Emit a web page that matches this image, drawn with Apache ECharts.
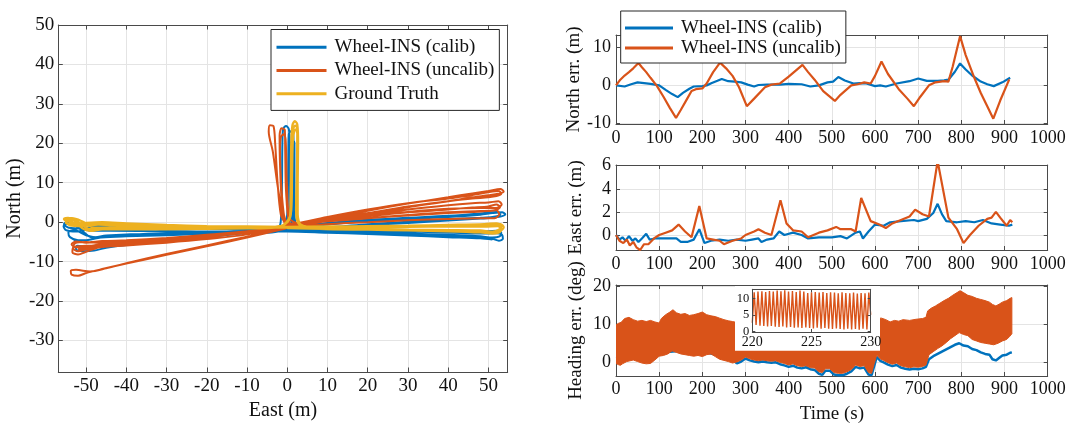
<!DOCTYPE html>
<html>
<head>
<meta charset="utf-8">
<script src="https://cdn.jsdelivr.net/npm/echarts@6/dist/echarts.min.js"></script>
<style>
  html, body { margin: 0; padding: 0; background: #fff; }
  #chart { width: 1069px; height: 426px; }
</style>
</head>
<body>
<div id="chart"></div>
<script>
// ---------- tick values ----------
const trajEastTicks = [-50, -40, -30, -20, -10, 0, 10, 20, 30, 40, 50];
const trajNorthTicks = [-30, -20, -10, 0, 10, 20, 30, 40, 50];
const timeTicks = [0, 100, 200, 300, 400, 500, 600, 700, 800, 900, 1000];
const northErrTicks = [-10, 0, 10];
const eastErrTicks = [0, 2, 4, 6];
const headingErrTicks = [0, 10, 20];
const insetTimeTicks = [220, 225, 230];
const insetHeadingTicks = [0, 5, 10];

// ---------- trajectories [east (m), north (m)] ----------
const calibPath = [
  [0,-2.3],[10,-2.6],[20,-2.9],[30,-3.2],[40,-3.5],[48,-3.8],[51,-4.2],[52.6,-4.7],[53.6,-4.2],[53.4,-3.2],[52,-2.8],[48,-2.9],
  [40,-2.6],[30,-2.4],[20,-2.2],[10,-2.1],[0,-1.9],[-10,-1.8],[-20,-1.7],[-30,-1.6],[-38,-1.2],[-43,-0.3],[-47,-0.8],[-51,-1.6],
  [-54.3,-1.4],[-55.5,-0.5],[-54.6,0.1],[-53,-0.5],[-50.5,-2.6],[-48.5,-3.9],[-45,-3.4],[-40,-3.1],[-30,-3.0],[-20,-2.8],[-10,-2.6],
  [-3,-2.3],[-1.8,-0.8],[-1.5,2],[-1.3,10],[-1.2,20],[-1.0,23.7],[-0.3,24.4],[0.4,23.6],[0.6,20],[0.7,10],[0.8,2],[1.6,-1.4],[5,-2.3],
  [10,-2.3],[20,-2.5],[30,-2.9],[40,-3.2],[48,-3.6],[51,-3.9],[52.8,-3.6],[53.2,-2.7],[52,-2.2],[48,-2.4],[40,-2.2],[30,-2.0],
  [20,-1.9],[10,-1.9],[0,-2.0],[-10,-2.2],[-20,-2.5],[-30,-2.8],[-40,-3.2],[-46,-3.8],[-49.5,-4.5],[-52,-4.6],[-54,-3.8],[-54.4,-2.6],
  [-53,-2.0],[-50,-3.3],[-47,-3.9],[-40,-3.6],[-30,-3.3],[-20,-3.0],[-10,-2.8],[-3,-2.5],[-1,-1.5],[0,2],[0.2,10],[0.3,18],
  [0.4,22.3],[1.0,23.1],[1.5,22.3],[1.6,18],[1.4,10],[1.3,2],[2.3,-1.2],[8,-1.6],[20,-0.8],[30,-0.2],[40,0.4],[48,0.9],[51,1.1],
  [53,1.4],[54.2,2.0],[53.4,2.5],[51,2.3],[48,1.9],[40,1.3],[30,0.8],[20,0.2],[10,-0.6],[0,-1.7],[-10,-2.7],[-20,-3.8],[-30,-4.8],
  [-40,-5.8],[-45,-6.5],[-48,-7.2],[-50.5,-7.4],[-52.5,-6.9],[-52.2,-6.0],[-49,-6.4],[-46,-6.0],[-40,-5.3],[-30,-4.4],[-20,-3.5],
  [-10,-2.8],[-3,-2.3],[-0.8,-1.0],[0.6,2],[0.8,10],[0.9,17],[1.0,20],[1.4,20.8],[1.8,20],[1.8,10],[1.8,2],[2.8,-1.3],[8,-1.4],
  [20,-0.5],[30,0.1],[40,0.7],[48,1.1],[51,1.3],[52.8,1.7],[53,2.3],[52,2.6],[48,2.2],[40,1.6],[30,1.1],[20,0.6],[10,-0.2],[0,-1.2],
  [-10,-1.5],[-20,-1.7],[-30,-1.8],[-38,-1.4],[-44,-0.9],[-49,-1.6],[-52.5,-2.4],[-55,-2.0],[-55.6,-1.0],[-54.2,-0.2],[-52,-0.8],
  [-49,-2.2],[-44,-2.2],[-30,-2.3],[-20,-2.4],[-10,-2.4],[0,-2.4],[10,-2.7],[20,-3.0],[30,-3.4],[40,-3.8],[48,-4.1],[51,-4.4]
];

const uncalibPath = [
  [0,-1.5],[-10,-3.9],[-20,-6.1],[-30,-8.3],[-40,-10.5],[-46,-11.9],[-50,-12.9],[-52,-13.6],[-53.6,-13.3],[-53.8,-12.4],[-52.5,-12.1],
  [-49,-12.5],[-45,-11.7],[-40,-10.4],[-30,-8.1],[-20,-5.9],[-10,-3.7],[0,-1.5],[10,0.5],[20,2.0],[30,3.8],[40,5.3],[46,6.3],[50,6.8],
  [52.5,7.2],[53.8,7.8],[53,8.4],[50,7.9],[46,7.3],[40,6.3],[30,4.7],[20,2.9],[10,1.0],[1,-0.8],[-0.8,1],[-2.2,8],[-3.6,18],
  [-4.6,23],[-4.3,24.6],[-3.4,24.3],[-3.0,20],[-2.4,10],[-1.6,2],[-0.5,-0.6],
  [-10,-3.1],[-20,-4.3],[-30,-5.2],[-40,-5.9],[-46,-6.3],[-50,-6.9],[-52,-7.4],[-53.2,-6.6],[-52.7,-5.3],[-50,-5.0],[-46,-5.3],
  [-40,-5.0],[-30,-4.4],[-20,-3.6],[-10,-2.7],[0,-1.2],[10,0.5],[20,1.5],[30,2.5],[40,3.2],[46,3.7],[50,4.0],[52,4.5],[52.9,3.8],
  [51.5,3.0],[48,2.8],[40,2.5],[30,1.8],[20,1.0],[10,0.2],[0.5,-0.8],[-0.6,1],[-1.4,6],[-1.8,15],[-1.9,22],[-1.4,23.8],[-0.6,23.4],
  [-0.5,18],[-0.3,8],[0.5,0],[2,-0.4],
  [10,0.6],[20,1.8],[30,3.2],[40,4.3],[46,4.8],[50,5.0],[52.5,5.3],[53.3,4.5],[52,3.6],[48,3.6],[40,3.4],[30,2.6],[20,1.5],[10,0.3],
  [0,-1.4],[-10,-2.6],[-20,-3.8],[-30,-4.8],[-40,-5.6],[-46,-6.2],[-50,-7.5],[-52,-8.2],[-53.4,-7.6],[-53.1,-6.3],[-50,-6.0],
  [-46,-5.8],[-40,-5.3],[-30,-4.6],[-20,-3.6],[-10,-2.6],[0,-1.3],[-0.7,1],[-1.4,8],[-1.8,18],[-1.6,21.5],[-0.9,22.3],[-0.4,21],
  [-0.1,10],[0.6,1],[3,-0.3],
  [10,0.8],[20,2.3],[30,4.0],[40,5.3],[46,6.0],[50,6.3],[52,6.6],[53.2,7.2],[52.6,7.9],[50,7.6],[46,6.9],[40,6.0],[30,4.8],[20,3.2],
  [10,1.3],[0,-0.8],[-10,-2.5],[-20,-3.8],[-30,-4.5],[-40,-5.2],[-46,-5.6],[-50,-6.2],[-52.5,-6.4],[-53.6,-5.6],[-52.5,-4.9],
  [-50,-5.2],[-46,-4.8],[-40,-4.6],[-30,-4.0],[-20,-3.2],[-10,-2.3],[0,-1.0],[10,0.2],[20,1.0],[30,1.7],[40,2.3],[46,2.6],[50,2.8],
  [52,3.0],[52.7,2.0],[51.5,1.0],[48,1.0],[40,0.8],[30,0.5],[20,0],[10,-0.5],[0,-1.2],[-10,-2.4],[-20,-3.6],[-30,-4.6],[-40,-5.4],
  [-46,-5.9],[-50,-6.5],[-52,-6.9]
];

const truthPath = [
  [0,-1.5],[10,-1.7],[20,-1.9],[30,-2.0],[40,-2.2],[48,-2.4],[51,-2.6],[53,-2.2],[53.8,-1.3],[53,-0.5],[51,-0.6],[48,-0.9],
  [40,-1.0],[30,-1.0],[20,-1.1],[10,-1.2],[0,-1.3],[-10,-1.2],[-20,-1.0],[-30,-0.9],[-38,-0.6],[-44,-0.2],[-48,-0.6],[-52,-0.4],
  [-54.5,0.2],[-55.5,0.8],[-54.5,1.1],[-53,0.6],[-51,-1.5],[-49,-2.2],[-46,-1.8],[-40,-1.6],[-30,-1.6],[-20,-1.5],[-10,-1.4],
  [-3,-1.2],[-0.5,-0.5],[0.7,1.5],[0.9,10],[1.0,20],[1.3,24.6],[1.9,25.6],[2.5,24.8],[2.7,20],[2.6,10],[2.6,2],[3.5,-0.8],[8,-1.5],
  [20,-1.7],[30,-1.9],[40,-2.0],[48,-2.1],[51,-2.4],[52.8,-1.8],[53.2,-0.9],[52,-0.3],[49,-0.5],[40,-0.7],[30,-0.9],[20,-1.0],
  [10,-1.1],[0,-1.2],[-10,-1.1],[-20,-1.0],[-30,-0.7],[-40,-0.3],[-46,0],[-50,-0.2],[-53,-0.5],[-55,-0.2],[-55,0.7],[-53.5,1.0],
  [-51,0.2],[-48,-1.4],[-40,-1.3],[-30,-1.3],[-20,-1.4],[-10,-1.4],[-3,-1.2],[-0.3,-0.3],[0.9,2],[1.1,10],[1.2,20],[1.5,23.8],
  [2.0,24.5],[2.5,23.8],[2.5,20],[2.4,10],[2.3,2],[3.2,-0.5],[8,-1.7],[20,-1.9],[30,-2.1],[40,-2.3],[48,-2.6],[51,-2.9],
  [52.5,-2.7],[53.3,-1.8],[52.3,-1.0],[49,-1.1],[40,-1.1],[30,-1.2],[20,-1.2],[10,-1.3],[0,-1.4],[-10,-1.3],[-20,-1.2],[-30,-1.1],
  [-40,-0.8],[-47,-0.6],[-51,-1.0],[-54,-0.8],[-55,0],[-54,0.6],[-52,0],[-49,-1.8],[-44,-1.8],[-30,-1.8],[-20,-1.7],[-10,-1.6],
  [-3,-1.4],[-0.2,0],[1.0,3],[1.2,12],[1.4,21],[1.8,23.2],[2.2,23.5],[2.5,22.5],[2.4,12],[2.2,3],[3,-0.6],[8,-1.6],[20,-1.8]
];

// ---------- North error [time (s), error (m)] ----------
const northCalib = [
  [0,0],[20,-0.3],[35,0.3],[50,0.8],[65,0.6],[80,0.4],[100,0],[115,-1.2],[130,-2.3],[143,-3.1],[155,-2.0],[170,-0.9],[180,-0.3],
  [200,-0.2],[210,0],[222,0.6],[235,1.2],[245,1.7],[260,1.1],[275,1.0],[290,0.8],[305,0.2],[320,-0.3],[330,0.1],[350,0.2],[380,0.2],
  [400,0.4],[430,0.3],[450,-0.3],[470,0],[490,0.8],[503,1.0],[515,2.2],[530,1.3],[550,0.5],[565,0.6],[580,0.5],[600,-0.2],[612,0],
  [625,-0.3],[650,0.5],[680,1.1],[700,1.8],[720,1.2],[745,1.2],[760,1.3],[770,1.5],[785,3.6],[797,5.8],[810,4.2],[825,2.6],
  [845,1.0],[860,0.3],[875,-0.2],[895,0.8],[913,2.0]
];
const northUncalib = [
  [0,0],[10,1.5],[20,2.6],[30,3.5],[40,4.5],[52,5.9],[60,4.8],[70,3.5],[80,2.0],[95,-0.2],[110,-3.0],[125,-6.0],[139,-8.6],[150,-6.5],
  [165,-3.5],[175,-1.5],[185,-1.0],[200,-0.8],[210,0.5],[225,3.5],[241,6.0],[255,4.5],[270,2.5],[285,-0.5],[303,-5.5],[320,-3.5],
  [345,-0.5],[360,0.2],[380,0.5],[400,2.3],[432,5.4],[445,3.5],[460,1.5],[480,-1.5],[507,-4.1],[520,-2.5],[545,0],[560,0.3],
  [575,0.8],[590,0.5],[600,2.5],[615,6.3],[630,3.0],[655,-1.0],[675,-3.5],[690,-5.5],[705,-3.0],[725,0],[740,0.8],[760,1.1],
  [770,1.0],[780,5.0],[797,13.0],[810,8.0],[830,2.0],[845,-2.0],[860,-5.5],[874,-8.8],[890,-4.0],[911,1.6]
];

// ---------- East error [time (s), error (m)] ----------
const eastCalib = [
  [0,0],[8,-0.4],[15,-0.2],[22,-0.5],[30,-0.1],[38,-0.5],[45,-0.3],[52,-0.6],[60,-0.3],[70,0.1],[78,-0.4],[90,-0.3],[100,-0.3],
  [120,-0.3],[140,-0.3],[150,-0.6],[165,-0.6],[180,-0.4],[193,0.5],[205,-0.7],[220,-0.5],[240,-0.4],[260,-0.5],[280,-0.4],
  [300,-0.5],[315,-0.4],[330,-0.3],[337,-0.6],[350,-0.4],[365,-0.3],[378,0.3],[390,0],[410,0.2],[430,0],[445,-0.3],[470,-0.2],
  [500,-0.2],[520,-0.1],[535,-0.3],[555,0.2],[565,0.3],[572,-0.3],[585,0.3],[600,0.9],[620,0.8],[635,1.1],[660,1.2],[690,1.3],
  [700,1.2],[720,1.4],[735,1.9],[745,2.7],[755,1.8],[765,1.2],[790,1.1],[810,1.2],[830,1.1],[850,1.3],[870,1.0],[890,0.9],
  [910,0.8],[918,0.9]
];
const eastUncalib = [
  [0,0],[8,-0.5],[17,-0.7],[25,-0.4],[32,-0.9],[40,-0.6],[48,-1.1],[56,-1.3],[65,-0.8],[75,-0.8],[88,-0.3],[100,0],[115,0.2],
  [130,0.4],[145,0.9],[160,0.3],[175,-0.2],[193,2.5],[210,-0.3],[225,-0.4],[240,-0.5],[250,-0.8],[270,-0.5],[290,-0.3],[300,0],
  [320,0.3],[330,0.5],[345,0.2],[360,0],[381,3.0],[395,1.0],[410,0.4],[430,0.3],[445,-0.2],[470,0.2],[490,0.4],[510,0.7],
  [520,0.5],[545,0.5],[555,0.3],[568,3.2],[590,1.2],[610,0.9],[625,0.6],[640,1.0],[660,1.3],[680,1.6],[693,2.2],[710,1.8],
  [725,1.6],[745,6.4],[770,1.5],[790,0.5],[805,-0.7],[820,0],[840,0.8],[860,1.4],[870,1.5],[880,2.0],[890,1.5],[905,0.8],
  [913,1.3],[918,1.1]
];

// ---------- Heading error [time (s), error (deg)] ----------
const headingCalib = [
  [0,1.0],[50,1.5],[100,2.5],[150,3.0],[200,2.8],[250,1.5],[270,0.8],[280,-0.3],[290,0.2],[300,1.0],[310,0.5],[320,0.2],
  [330,0],[340,0.2],[350,0],[360,-0.1],[370,0],[380,-0.5],[390,-0.8],[400,-1.2],[410,-0.9],[420,-1.4],[430,-1.6],[440,-1.3],
  [450,-1.8],[460,-2.0],[470,-3.0],[478,-3.3],[485,-2.2],[495,-2.2],[505,-3.2],[515,-3.4],[525,-3.4],[535,-3.0],[545,-2.4],
  [555,-1.2],[565,-1.6],[575,-1.4],[585,-3.2],[592,-3.4],[598,-1.0],[604,1.4],[612,0.4],[620,0],[630,-0.6],[640,-1.0],[650,-0.7],
  [660,-1.4],[670,-1.7],[680,-1.9],[690,-1.7],[700,-1.8],[710,-1.6],[718,-1.2],[725,0.8],[735,1.6],[745,2.2],[755,2.8],[765,3.4],
  [775,4.0],[785,4.6],[795,5.0],[805,4.4],[815,4.2],[825,3.5],[835,3.2],[845,2.6],[855,2.2],[865,2.0],[872,0.8],[880,0.5],
  [888,1.2],[895,1.8],[905,2.0],[913,2.5],[917,2.6]
];
// upper and lower envelope of the fast heading oscillation (uncalibrated)
const headingUncalibUpper = [
  [0,9.8],[5,10.2],[12,10.5],[20,11.5],[30,11.8],[40,11.2],[50,10.8],[60,11.0],[70,10.7],[80,11.0],[90,10.6],[100,10.3],
  [105,11.5],[115,12.5],[125,13.2],[132,13.8],[140,13.0],[150,12.6],[160,12.8],[170,12.3],[180,12.5],[190,12.8],[200,13.2],
  [210,12.5],[220,12.2],[230,12.0],[240,11.6],[250,11.2],[260,10.9],[270,10.7],[278,10.5],[300,11.5],[350,11.8],[400,11.2],
  [450,11.0],[500,10.8],[550,11.2],[600,11.5],[615,11.6],[625,11.2],[635,10.6],[645,11.0],[655,10.8],[665,11.2],[680,11.0],
  [695,11.3],[710,11.5],[718,11.8],[722,13.5],[730,14.2],[740,14.8],[750,15.5],[760,16.2],[770,16.8],[780,17.6],[790,18.3],
  [797,18.8],[805,18.3],[815,17.6],[825,17.3],[835,16.8],[845,16.5],[855,16.2],[865,15.8],[872,15.2],[880,14.8],[888,15.3],
  [895,15.8],[905,16.2],[913,16.8],[917,17.0]
];
const headingUncalibLower = [
  [0,-0.3],[5,-0.6],[10,-0.8],[15,-0.4],[25,0.2],[40,0.6],[50,0.2],[60,-0.2],[70,-0.4],[80,-0.3],[90,0.6],[100,1.6],[110,1.8],
  [120,2.2],[130,3.0],[140,2.6],[150,2.2],[160,2.0],[170,1.8],[180,1.6],[190,1.8],[200,1.5],[210,2.0],[220,2.2],[230,1.5],
  [240,0.8],[250,0.5],[260,0.2],[270,-0.2],[280,0.1],[290,0.6],[300,1.4],[310,0.9],[320,0.6],[330,0.4],[340,0.6],[350,0.4],
  [360,0.3],[370,0.4],[380,0],[390,-0.3],[400,-0.7],[410,-0.4],[420,-0.9],[430,-1.1],[440,-0.9],[450,-1.4],[460,-1.5],
  [470,-2.5],[478,-2.7],[485,-1.7],[495,-1.7],[505,-2.7],[515,-2.9],[525,-2.9],[535,-2.5],[545,-1.9],[555,-0.7],[565,-1.1],
  [575,-0.9],[585,-2.7],[592,-2.9],[598,-0.4],[604,1.9],[612,0.9],[620,0.5],[630,-0.1],[640,-0.5],[650,-0.2],[660,-0.9],
  [670,-1.2],[680,-1.4],[690,-1.2],[700,-1.3],[710,-1.1],[718,-0.7],[725,2.0],[735,2.8],[745,3.6],[755,4.3],[765,5.2],
  [775,6.2],[785,7.0],[795,7.8],[805,7.3],[815,7.0],[825,6.0],[835,5.6],[845,5.2],[855,5.0],[865,4.8],[875,4.6],[885,5.0],
  [895,5.6],[905,6.0],[912,6.8],[917,7.5]
];
// zoomed detail, 220–230 s
const insetUncalib = [
  [220.00,2.6],[220.16,11.8],[220.32,1.9],[220.48,12.0],[220.65,1.7],[220.81,12.1],[220.97,1.6],[221.13,11.9],[221.29,1.5],
  [221.45,12.2],[221.61,1.6],[221.77,12.0],[221.94,1.4],[222.10,12.3],[222.26,1.3],[222.42,12.1],[222.58,1.5],[222.74,12.4],
  [222.90,1.2],[223.06,12.0],[223.23,1.3],[223.39,12.2],[223.55,1.1],[223.71,11.9],[223.87,1.2],[224.03,12.3],[224.19,1.0],
  [224.35,12.0],[224.52,1.2],[224.68,11.6],[224.84,1.0],[225.00,11.8],[225.16,0.9],[225.32,11.9],[225.48,1.1],[225.65,11.7],
  [225.81,0.8],[225.97,11.9],[226.13,1.0],[226.29,11.6],[226.45,0.8],[226.61,11.8],[226.77,0.7],[226.94,11.7],[227.10,0.9],
  [227.26,11.5],[227.42,0.7],[227.58,11.8],[227.74,0.6],[227.90,11.6],[228.06,0.8],[228.23,11.5],[228.39,0.6],[228.55,11.7],
  [228.71,0.7],[228.87,11.4],[229.03,0.5],[229.19,11.6],[229.35,0.8],[229.52,11.5],[229.68,0.6],[229.84,11.7],[230.00,5.0]
];

// ---------- styling ----------
const BLUE = '#0072BD', ORANGE = '#D95319', YELLOW = '#EDB120';
const FONT = 'Liberation Serif';
const INK = '#111111', AXIS = '#4a4a4a', GRID = '#e4e4e4';
const NAME_CALIB = 'Wheel-INS (calib)', NAME_UNCALIB = 'Wheel-INS (uncalib)', NAME_TRUTH = 'Ground Truth';

const grids = [
  { left: 58.3, top: 25, width: 449.4, height: 355 },      // trajectory
  { left: 616, top: 35, width: 431.7, height: 89 },         // north error
  { left: 616, top: 165, width: 431.7, height: 85 },        // east error
  { left: 616, top: 285, width: 431.7, height: 91 },        // heading error
  { left: 752.3, top: 289.3, width: 118.4, height: 42.7 }   // heading detail
];

const plainNumber = v => String(v);

const xAxes = [], yAxes = [];
function addAxes(g, o) {
  const xi = xAxes.length, yi = yAxes.length;
  const line = { show: true, onZero: false, lineStyle: { color: AXIS, width: 1 } };
  const tick = (vals) => ({ show: true, inside: true, length: o.tl, customValues: vals, lineStyle: { color: AXIS, width: 1 } });
  const nameStyle = { fontFamily: FONT, fontSize: o.nfs, color: INK };
  const common = { type: 'value', gridIndex: g, z: o.z || 0, axisLine: line, silent: true };
  xAxes.push(Object.assign({}, common, {
    position: 'bottom', min: o.x[0], max: o.x[1], axisTick: tick(o.xt),
    axisLabel: { customValues: o.xt, formatter: plainNumber, fontFamily: FONT, fontSize: o.xfs, color: INK, margin: o.xm },
    splitLine: { show: !!o.grid, lineStyle: { color: GRID, width: 1 } },
    name: o.xn || '', nameLocation: 'middle', nameGap: o.xg || 0, nameTextStyle: nameStyle
  }));
  xAxes.push(Object.assign({}, common, {
    position: 'top', min: o.x[0], max: o.x[1], axisTick: tick(o.xt),
    axisLabel: { show: false }, splitLine: { show: false }
  }));
  yAxes.push(Object.assign({}, common, {
    position: 'left', min: o.y[0], max: o.y[1], axisTick: tick(o.yt),
    axisLabel: { customValues: o.yt, formatter: plainNumber, fontFamily: FONT, fontSize: o.yfs, color: INK, margin: o.ym },
    splitLine: { show: !!o.grid, lineStyle: { color: GRID, width: 1 } },
    name: o.yn || '', nameLocation: 'middle', nameRotate: 90, nameGap: o.yg || 0, nameTextStyle: nameStyle
  }));
  yAxes.push(Object.assign({}, common, {
    position: 'right', min: o.y[0], max: o.y[1], axisTick: tick(o.yt),
    axisLabel: { show: false }, splitLine: { show: false }
  }));
  return { xAxisIndex: xi, yAxisIndex: yi };
}

const axTraj = addAxes(0, { x: [-56.9, 54.8], y: [-38, 50], xt: trajEastTicks, yt: trajNorthTicks, tl: 4.5, grid: true,
  xfs: 19, yfs: 19, xm: 5, ym: 4, xn: 'East (m)', xg: 29, yn: 'North (m)', yg: 29, nfs: 20 });
const axNorth = addAxes(1, { x: [0, 1000], y: [-10.2, 13.3], xt: timeTicks, yt: northErrTicks, tl: 4, grid: true,
  xfs: 18, yfs: 18, xm: 5, ym: 5, yn: 'North err. (m)', yg: 30, nfs: 19 });
const axEast = addAxes(2, { x: [0, 1000], y: [-1.3, 6.06], xt: timeTicks, yt: eastErrTicks, tl: 4, grid: true,
  xfs: 18, yfs: 18, xm: 5, ym: 5, yn: 'East err. (m)', yg: 30, nfs: 19 });
const axHead = addAxes(3, { x: [0, 1000], y: [-3.6, 20.3], xt: timeTicks, yt: headingErrTicks, tl: 4, grid: true,
  xfs: 18, yfs: 18, xm: 4, ym: 5, xn: 'Time (s)', xg: 29, yn: 'Heading err. (deg)', yg: 30, nfs: 19 });
const axInset = addAxes(4, { x: [220, 230], y: [-0.2, 12.7], xt: insetTimeTicks, yt: insetHeadingTicks, tl: 3, grid: false,
  xfs: 14, yfs: 12.5, xm: 3, ym: 3, z: 12 });

const lineSeries = (name, ax, data, color, width, extra) => Object.assign({
  type: 'line', name, data, xAxisIndex: ax.xAxisIndex, yAxisIndex: ax.yAxisIndex,
  symbol: 'none', showSymbol: false, lineStyle: { color, width }, itemStyle: { color },
  emphasis: { disabled: true }, silent: true, z: 2
}, extra || {});

const series = [
  lineSeries(NAME_CALIB, axTraj, calibPath, BLUE, 2, { smooth: 0.3 }),
  lineSeries(NAME_UNCALIB, axTraj, uncalibPath, ORANGE, 2, { smooth: 0.3 }),
  lineSeries(NAME_TRUTH, axTraj, truthPath, YELLOW, 2.3, { smooth: 0.3 }),
  lineSeries(NAME_CALIB, axNorth, northCalib, BLUE, 2.2),
  lineSeries(NAME_UNCALIB, axNorth, northUncalib, ORANGE, 2.2),
  lineSeries(NAME_CALIB, axEast, eastCalib, BLUE, 2.2),
  lineSeries(NAME_UNCALIB, axEast, eastUncalib, ORANGE, 2.2),
  lineSeries(NAME_CALIB, axHead, headingCalib, BLUE, 2.5),
  {
    // dense heading oscillation rendered as its envelope band, above the calibrated trace
    type: 'custom', name: NAME_UNCALIB, xAxisIndex: axHead.xAxisIndex, yAxisIndex: axHead.yAxisIndex,
    coordinateSystem: 'cartesian2d', data: [[500, 5]], silent: true, clip: true, z: 3,
    renderItem: function (params, api) {
      const top = headingUncalibUpper.map(p => api.coord(p));
      const bottom = headingUncalibLower.slice().reverse().map(p => api.coord(p));
      return { type: 'polygon', shape: { points: top.concat(bottom) }, style: { fill: ORANGE, stroke: ORANGE, lineWidth: 1 } };
    }
  },
  lineSeries(NAME_UNCALIB, axInset, insetUncalib, ORANGE, 1.4, { z: 11 })
];

const legendText = { fontFamily: FONT, fontSize: 19, color: INK, padding: [0, 0, 0, 3] };

const option = {
  animation: false,
  backgroundColor: '#ffffff',
  textStyle: { fontFamily: FONT, color: INK },
  grid: grids.map(g => Object.assign({ containLabel: false }, g)),
  xAxis: xAxes,
  yAxis: yAxes,
  legend: [
    {
      data: [NAME_CALIB, NAME_UNCALIB, NAME_TRUTH], orient: 'vertical', left: 271, top: 29.5,
      icon: 'rect', itemWidth: 50, itemHeight: 3, itemGap: 0, selectedMode: false,
      textStyle: Object.assign({ lineHeight: 23.3 }, legendText),
      backgroundColor: '#ffffff', borderColor: '#262626', borderWidth: 1, padding: [6, 5, 5, 5.5]
    },
    {
      data: [NAME_CALIB, NAME_UNCALIB], orient: 'vertical', left: 620.7, top: 11,
      icon: 'rect', itemWidth: 48, itemHeight: 3, itemGap: 0, selectedMode: false,
      textStyle: Object.assign({ lineHeight: 20 }, legendText),
      backgroundColor: '#ffffff', borderColor: '#262626', borderWidth: 1, padding: [7, 5, 5, 4.3]
    }
  ],
  graphic: [
    // white backing behind the detail axes
    { type: 'rect', shape: { x: 735, y: 286, width: 145, height: 64.7 }, style: { fill: '#ffffff' }, z: 5, silent: true }
  ],
  series
};

const chart = echarts.init(document.getElementById('chart'), null, { renderer: 'canvas' });
chart.setOption(option);
</script>
</body>
</html>
